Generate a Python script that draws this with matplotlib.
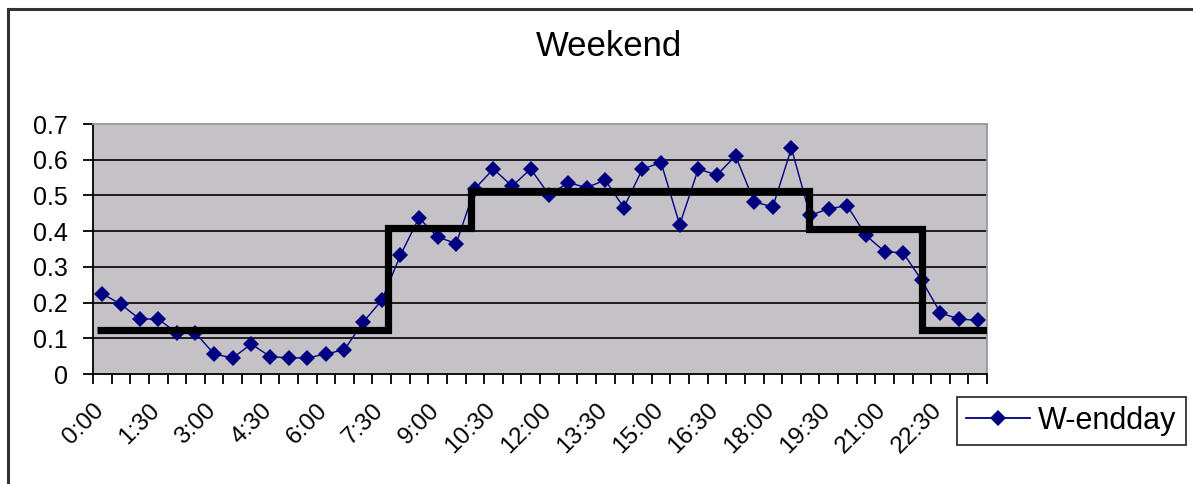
import matplotlib
matplotlib.use("Agg")
import matplotlib.pyplot as plt
from matplotlib.lines import Line2D

plt.rcParams['font.family'] = ['Liberation Sans', 'DejaVu Sans']

# ---- data ----
times = [f"{h}:{m:02d}" for h in range(24) for m in (0, 30)]
wendday = [0.225, 0.195, 0.154, 0.154, 0.115, 0.115, 0.056, 0.045, 0.084, 0.049,
           0.045, 0.045, 0.056, 0.068, 0.145, 0.206, 0.332, 0.437, 0.384, 0.365,
           0.519, 0.574, 0.526, 0.574, 0.501, 0.536, 0.522, 0.543, 0.466, 0.574,
           0.592, 0.418, 0.574, 0.557, 0.611, 0.482, 0.468, 0.632, 0.444, 0.463,
           0.471, 0.388, 0.343, 0.339, 0.262, 0.171, 0.154, 0.150]
step_edges = [-0.3, 15.36, 19.8, 37.96, 44.0, 47.5]   # in category units
step_levels = [0.123, 0.41, 0.512, 0.405, 0.123]
yticks = [0, 0.1, 0.2, 0.3, 0.4, 0.5, 0.6, 0.7]
ytick_labels = ["0", "0.1", "0.2", "0.3", "0.4", "0.5", "0.6", "0.7"]
label_every = 3
title = "Weekend"
series_name = "W-endday"

W, H = 1193, 484
fig = plt.figure(figsize=(W / 100, H / 100), dpi=100)
ax = fig.add_axes([93 / W, 1 - 374 / H, (987 - 93) / W, (374 - 124) / H])
ax.set_facecolor("#c4c2c6")

n = len(wendday)
xs = list(range(n))
ax.plot(xs, wendday, color="#000080", lw=1.0, marker="D", ms=8.5,
        markeredgewidth=0, zorder=3, label=series_name)

# step line
sx, sy = [], []
for i, lvl in enumerate(step_levels):
    sx += [step_edges[i], step_edges[i + 1]]
    sy += [lvl, lvl]
ax.plot(sx, sy, color="black", lw=5.2, solid_joinstyle="miter",
        solid_capstyle="butt", zorder=4)

ax.set_xlim(-0.5, n - 0.5)
ax.set_ylim(0, 0.7)
ax.set_yticks(yticks)
ax.set_yticklabels(ytick_labels)
for y in yticks[1:-1]:
    ax.axhline(y, color="black", lw=1.2, zorder=1)

edges = [k - 0.5 for k in range(n + 1)]
ax.set_xticks(edges)
ax.set_xticklabels([times[k] if (k < n and k % label_every == 0) else "" for k in range(n + 1)],
                   rotation=45, ha="right", va="top", rotation_mode="anchor")
ax.tick_params(axis="x", direction="out", length=7, width=1.3, pad=11, labelsize=17.5)
ax.tick_params(axis="y", direction="out", length=7, width=1.3, pad=11, labelsize=18)

for s in ("left", "bottom"):
    ax.spines[s].set_color("black")
    ax.spines[s].set_linewidth(1.3)
for s in ("top", "right"):
    ax.spines[s].set_color("#999999")
    ax.spines[s].set_linewidth(1.3)

fig.text(609 / W, 1 - 46 / H, title, ha="center", va="center", fontsize=25)

# legend (box runs past the right edge as in the reference)
handle = Line2D([], [], color="#000080", lw=1.3, marker="D", ms=8.5, markeredgewidth=0)
leg = fig.legend([handle], [series_name], loc="upper left",
                 bbox_to_anchor=(957 / W, 1 - 397 / H), fontsize=22,
                 frameon=True, fancybox=False, edgecolor="black",
                 borderpad=0.3, borderaxespad=0, handlelength=2.1, handletextpad=0.25)
leg.get_frame().set_linewidth(1.3)

# outer frame lines (top and left)
fig.add_artist(Line2D([8 / W, 1], [1 - 9 / H, 1 - 9 / H], transform=fig.transFigure,
                      color="#333333", lw=2.2))
fig.add_artist(Line2D([8 / W, 8 / W], [0, 1 - 9 / H], transform=fig.transFigure,
                      color="#333333", lw=2.2))

fig.savefig("out.png", dpi=100)
